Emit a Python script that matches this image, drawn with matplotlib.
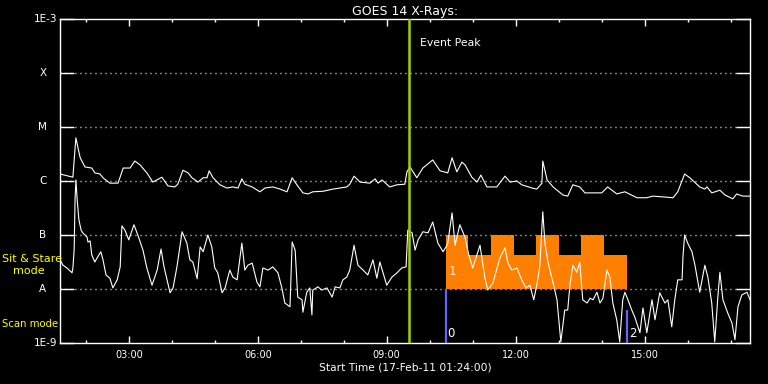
import matplotlib
matplotlib.use('Agg')
import matplotlib.pyplot as plt
from matplotlib.ticker import FixedLocator, FuncFormatter
import numpy as np

# GOES 14 long channel (1-8 A), hours since 00:00 on 17-Feb-11 and log10 flux
long_t = [1.40, 1.60, 1.70, 1.74, 1.77, 1.82, 1.87, 1.98, 2.14, 2.21, 2.33, 2.40,
          2.56, 2.75, 2.87, 3.03, 3.14, 3.26, 3.42, 3.56, 3.77, 3.91, 4.07, 4.14,
          4.26, 4.38, 4.47, 4.61, 4.73, 4.82, 4.87, 4.96, 5.12, 5.28, 5.42, 5.54,
          5.63, 5.70, 5.87, 6.05, 6.17, 6.35, 6.52, 6.68, 6.80, 6.91, 7.05, 7.17,
          7.28, 7.52, 7.75, 8.07, 8.14, 8.24, 8.38, 8.61, 8.73, 8.80, 8.89, 9.00,
          9.07, 9.24, 9.42, 9.47, 9.54, 9.70, 9.84, 10.07, 10.24, 10.42, 10.52,
          10.63, 10.75, 10.82, 10.98, 11.10, 11.19, 11.33, 11.56, 11.75, 11.87,
          12.03, 12.14, 12.38, 12.49, 12.61, 12.63, 12.73, 12.87, 13.10, 13.21,
          13.33, 13.49, 13.61, 14.00, 14.14, 14.35, 14.54, 14.82, 15.05, 15.19,
          15.52, 15.66, 15.77, 15.93, 16.05, 16.28, 16.40, 16.45, 16.56, 16.75,
          16.87, 17.05, 17.14, 17.28, 17.45]
long_log = [-5.87, -5.91, -5.93, -5.50, -5.20, -5.39, -5.57, -5.74, -5.76, -5.85,
            -5.87, -5.94, -6.04, -6.04, -5.76, -5.76, -5.63, -5.70, -5.85, -6.02,
            -5.93, -6.09, -6.11, -6.06, -5.80, -5.85, -5.94, -6.02, -5.94, -5.94,
            -5.81, -5.94, -6.07, -6.13, -6.11, -6.13, -5.96, -6.06, -6.11, -6.20,
            -6.13, -6.11, -6.15, -6.20, -5.94, -6.07, -6.22, -6.24, -6.20, -6.19,
            -6.15, -6.11, -6.06, -5.91, -6.02, -6.04, -5.96, -6.04, -5.98, -6.06,
            -6.11, -6.07, -6.06, -5.83, -5.74, -5.94, -5.76, -5.61, -5.81, -5.85,
            -5.57, -5.83, -5.65, -5.70, -5.93, -6.02, -5.89, -6.11, -6.11, -5.91,
            -6.02, -6.00, -6.07, -6.13, -6.15, -6.04, -5.63, -5.98, -6.11, -6.26,
            -6.28, -6.07, -6.11, -6.22, -6.22, -6.11, -6.24, -6.20, -6.31, -6.31,
            -6.28, -6.30, -6.31, -6.20, -5.87, -5.94, -6.11, -6.15, -6.11, -6.22,
            -6.17, -6.26, -6.33, -6.24, -6.28, -6.28]

# GOES 14 short channel (0.5-4 A)
short_t = [1.40, 1.47, 1.56, 1.68, 1.70, 1.73, 1.75, 1.77, 1.80, 1.84, 1.89, 1.93,
           2.03, 2.05, 2.10, 2.14, 2.21, 2.26, 2.35, 2.40, 2.47, 2.56, 2.63, 2.73,
           2.80, 2.84, 2.91, 3.00, 3.12, 3.21, 3.33, 3.42, 3.54, 3.66, 3.75, 3.82,
           3.89, 3.96, 4.03, 4.12, 4.24, 4.35, 4.42, 4.49, 4.59, 4.66, 4.73, 4.84,
           4.93, 5.00, 5.07, 5.17, 5.24, 5.35, 5.42, 5.52, 5.63, 5.70, 5.77, 5.87,
           5.98, 6.05, 6.12, 6.24, 6.35, 6.47, 6.56, 6.63, 6.75, 6.80, 6.87, 6.93,
           7.03, 7.05, 7.14, 7.21, 7.26, 7.28, 7.40, 7.49, 7.61, 7.73, 7.80, 7.91,
           7.98, 8.07, 8.14, 8.24, 8.33, 8.45, 8.56, 8.68, 8.77, 8.84, 9.00, 9.12,
           9.24, 9.35, 9.45, 9.49, 9.59, 9.66, 9.73, 9.84, 9.96, 10.07, 10.19,
           10.31, 10.38, 10.42, 10.52, 10.59, 10.70, 10.82, 10.91, 11.00, 11.17,
           11.28, 11.35, 11.47, 11.63, 11.75, 11.82, 11.91, 12.03, 12.14, 12.24,
           12.33, 12.42, 12.49, 12.56, 12.63, 12.68, 12.75, 12.87, 12.96, 13.05,
           13.14, 13.21, 13.26, 13.33, 13.42, 13.49, 13.56, 13.66, 13.73, 13.80,
           13.89, 13.96, 14.03, 14.12, 14.19, 14.26, 14.35, 14.42, 14.49, 14.54,
           14.61, 14.70, 14.77, 14.89, 14.96, 15.05, 15.17, 15.24, 15.35, 15.47,
           15.54, 15.63, 15.70, 15.77, 15.87, 15.89, 15.93, 16.00, 16.10, 16.17,
           16.28, 16.40, 16.47, 16.56, 16.63, 16.70, 16.75, 16.82, 16.93, 17.03,
           17.10, 17.17, 17.26, 17.38, 17.45]
short_log = [-7.46, -7.56, -7.61, -7.70, -7.61, -7.26, -6.35, -5.98, -6.35, -6.72,
             -6.91, -6.96, -7.04, -7.13, -7.11, -7.37, -7.50, -7.43, -7.31, -7.46,
             -7.74, -7.80, -7.98, -7.83, -7.59, -6.83, -6.91, -7.09, -6.81, -7.00,
             -7.28, -7.61, -7.93, -7.65, -7.26, -7.59, -7.83, -8.07, -7.98, -7.59,
             -6.94, -7.15, -7.46, -7.50, -7.81, -7.22, -7.31, -7.00, -7.22, -7.61,
             -7.70, -8.07, -7.98, -7.65, -7.78, -7.83, -7.15, -7.65, -7.56, -7.52,
             -7.87, -7.96, -7.61, -7.65, -7.59, -7.70, -7.98, -8.26, -8.33, -7.13,
             -7.28, -8.15, -8.20, -8.43, -8.06, -7.98, -8.48, -8.02, -7.96, -8.02,
             -7.98, -8.15, -7.96, -7.98, -7.83, -7.78, -7.65, -7.19, -7.56, -7.65,
             -7.74, -7.46, -7.80, -7.50, -7.93, -7.78, -7.70, -7.61, -7.59, -6.91,
             -6.96, -7.28, -7.09, -6.94, -6.96, -6.76, -7.15, -7.31, -7.22, -7.15,
             -6.59, -7.19, -6.81, -7.04, -7.37, -7.61, -7.19, -7.78, -8.02, -7.89,
             -7.43, -7.24, -7.52, -7.65, -7.61, -7.83, -7.98, -7.93, -8.20, -7.93,
             -7.59, -6.57, -7.15, -7.50, -7.89, -8.20, -8.98, -8.39, -8.39, -7.93,
             -7.56, -7.69, -7.50, -8.20, -8.26, -8.17, -8.20, -8.06, -8.26, -8.17,
             -7.65, -7.78, -8.26, -8.57, -8.98, -8.20, -8.06, -8.20, -8.39, -8.52,
             -8.81, -8.35, -8.81, -8.20, -8.57, -8.07, -8.26, -8.20, -8.70, -8.20,
             -7.83, -7.83, -7.41, -7.00, -7.15, -7.31, -7.56, -8.06, -7.56, -7.78,
             -8.26, -8.98, -8.17, -7.69, -8.20, -8.44, -8.63, -8.94, -8.33, -8.11,
             -8.06, -8.20]

# Sit & Stare mode blocks: edges (h) and block tops
block_edges = [10.37, 10.89, 11.42, 11.96, 12.47, 13.00, 13.52, 14.05, 14.59]
block_tops = [1e-7, 4.2e-8, 1e-7, 4.2e-8, 1e-7, 4.2e-8, 1e-7, 4.2e-8]
block_label = '1'

mode_marks_t = [10.37, 14.59]
mode_marks_top = [1e-8, 4.1e-9]
mode_marks_lab = ['0', '2']

peak_t = 9.52
start_h, end_h = 1.40, 17.45

level_vals = [1e-9, 1e-8, 1e-7, 1e-6, 1e-5, 1e-4, 1e-3]
level_labs = ['1E-9', 'A', 'B', 'C', 'M', 'X', '1E-3']

W, H = 768, 384
fig = plt.figure(figsize=(W / 100, H / 100), dpi=100, facecolor='black')
ax = fig.add_axes([60 / W, 1 - 343 / H, 690 / W, 324 / H], facecolor='black')

ax.set_yscale('log')
ax.set_ylim(1e-9, 1e-3)
ax.set_xlim(start_h, end_h)

# dotted level lines
for v in level_vals[1:-1]:
    ax.axhline(v, color='white', lw=1.0, ls=(0, (0.7, 2.9)), zorder=1)

# mode blocks
for i, top in enumerate(block_tops):
    ax.bar(block_edges[i], top - 1e-8, width=block_edges[i + 1] - block_edges[i],
           bottom=1e-8, align='edge', color='#ff8000', lw=0, zorder=2)
ax.text(block_edges[0] + 0.08, 2.1e-8, block_label, color='#ffe8d0',
        fontsize=8.5, va='center', ha='left', zorder=5)

for t, top, lab in zip(mode_marks_t, mode_marks_top, mode_marks_lab):
    ax.vlines(t, 1e-9, top, color='#6464ff', lw=1.6, zorder=4)
    ax.text(t + 0.04, 1.5e-9, lab, color='white', fontsize=8.5,
            va='center', ha='left', zorder=5)

ax.plot(long_t, 10 ** np.array(long_log), color='white', lw=0.8, zorder=3)
ax.plot(short_t, 10 ** np.array(short_log), color='white', lw=0.8, zorder=3)

ax.axvline(peak_t, color='#a0d000', lw=1.8, zorder=4)
ax.text(peak_t + 0.25, 10 ** -3.45, 'Event Peak', color='white', fontsize=7.8,
        va='center', ha='left')

for s in ax.spines.values():
    s.set_color('white')
    s.set_linewidth(1.0)

# x axis: hours
ax.xaxis.set_major_locator(FixedLocator([3, 6, 9, 12, 15]))
ax.xaxis.set_minor_locator(FixedLocator(list(range(2, 18))))
ax.xaxis.set_major_formatter(FuncFormatter(lambda v, p: '%02d:00' % int(v)))
ax.tick_params(axis='x', which='major', direction='in', length=5, width=1,
               colors='white', labelsize=7, pad=5, top=True)
ax.tick_params(axis='x', which='minor', direction='in', length=2.5, width=1,
               colors='white', top=True)
ax.set_xlabel('Start Time (17-Feb-11 01:24:00)', color='white', fontsize=7.7,
              labelpad=2)

# y axis: flare classes
ax.yaxis.set_major_locator(FixedLocator(level_vals))
ax.yaxis.set_minor_locator(FixedLocator([]))
ax.set_yticklabels([])
ax.tick_params(axis='y', which='major', direction='in', length=10, width=1,
               colors='white', right=True)
for v, lab in zip(level_vals, level_labs):
    if lab.startswith('1E'):
        ax.text(-0.004, v, lab, transform=ax.get_yaxis_transform(), color='white',
                fontsize=7.5, ha='right', va='center')
    else:
        ax.text(-0.025, v, lab, transform=ax.get_yaxis_transform(), color='white',
                fontsize=7.5, ha='center', va='center')

ax.set_title('GOES 14 X-Rays:', color='white', fontsize=9, pad=3)

fig.text(2 / W, 1 - 259 / H, 'Sit & Stare', color='yellow', fontsize=8,
         ha='left', va='center')
fig.text(13 / W, 1 - 271 / H, 'mode', color='yellow', fontsize=8,
         ha='left', va='center')
fig.text(2 / W, 1 - 324 / H, 'Scan mode', color='yellow', fontsize=7.3,
         ha='left', va='center')

fig.savefig('out.png', dpi=100, facecolor='black')
